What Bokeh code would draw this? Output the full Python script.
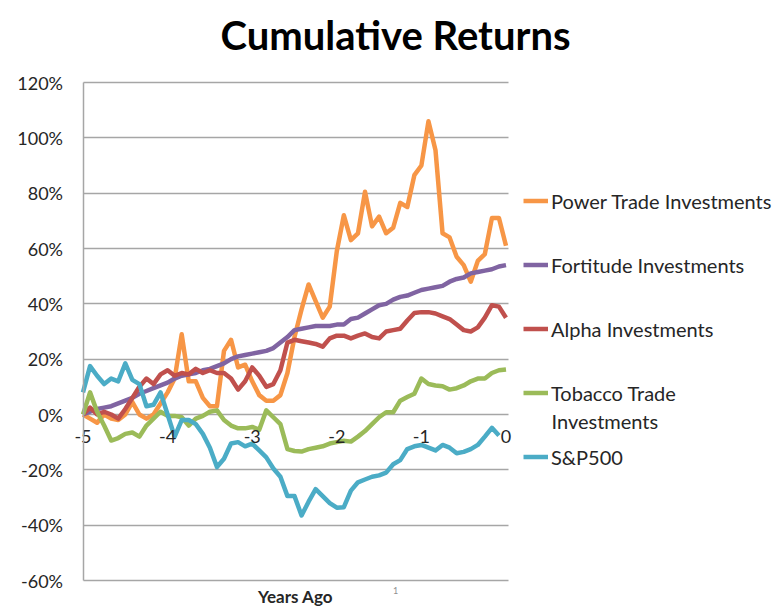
from bokeh.plotting import figure
from bokeh.models import FixedTicker, NumeralTickFormatter, Legend, LegendItem, Label, Range1d
from bokeh.embed import file_html
from bokeh.resources import INLINE

# ---- data (cumulative returns in %, monthly, from 5 years ago to now) ----
months_ago = list(range(-60, 1))
power_trade = [0, -1.5, -3, 0, -1.5, -2, 0, 4.5, 0, -1.5,
               0, 4, 8, 13, 29, 12, 12, 6, 3, 3,
               23, 27, 17, 18, 12, 7, 5, 5, 7, 15,
               28, 38, 47, 41, 35, 39, 59, 72, 63, 65.5,
               80.5, 68, 71.5, 65.5, 67.5, 76.5, 75, 86.5, 90, 106,
               95.5, 65.5, 64, 57, 54, 48, 55.5, 58, 71, 71,
               61]
fortitude = [0, 1, 2, 2.5, 3, 4, 5, 6, 7.5, 8.5,
             9.5, 10.5, 11.5, 13, 14, 14.5, 15, 16, 16.5, 17.5,
             18.5, 20, 21, 21.5, 22, 22.5, 23, 24, 26, 28,
             30.5, 31, 31.5, 32, 32, 32, 32.5, 32.5, 34.5, 35,
             36.5, 38, 39.5, 40, 41.5, 42.5, 43, 44, 45, 45.5,
             46, 46.5, 48, 49, 49.5, 51, 51.5, 52, 52.5, 53.5,
             54]
alpha = [0, 2.5, 0, 1, 0, -1.5, 2, 6, 10, 13,
         11, 14.5, 16, 14, 15, 14.5, 16.5, 15, 16, 15,
         15, 13, 9, 12, 17, 14, 10, 11, 16, 26,
         27, 26.5, 26, 25.5, 24.5, 27.5, 28.5, 28.5, 27.5, 28.5,
         29.3, 28, 27.5, 30, 30.5, 31, 34, 36.7, 37, 37,
         36.5, 35.5, 34.5, 32.5, 30.5, 30, 31.5, 35, 39.5, 39,
         35]
tobacco = [0, 8, 1, -4, -9.4, -8.5, -7, -6.5, -8, -4,
           -1.5, 1, -0.5, -0.5, -1, -4, -1.5, -0.5, 1, 1.5,
           -2, -4, -5, -5, -4.5, -5.5, 1.5, -1, -3.5, -12.5,
           -13.2, -13.4, -12.5, -12, -11.5, -10.5, -10, -9.5, -9.8, -8,
           -6, -3.5, -1, 0.8, 0.8, 5, 6.3, 7.5, 13, 11,
           10.5, 10.2, 9, 9.5, 10.5, 12, 13, 13, 15, 16,
           16.3]
sp500 = [8, 17.5, 14, 11, 13, 12, 18.5, 12.5, 11, 3,
         3.5, 8, 0, -8, -2, -2, -3.5, -7, -12, -19,
         -16, -10.5, -10, -11.5, -10.5, -13, -15.5, -19.5, -22.5, -29.5,
         -29.5, -36.5, -31.5, -27, -29.5, -32, -33.7, -33.5, -27.5, -24.5,
         -23.5, -22.5, -22, -21, -18, -16.5, -12.5, -11.5, -11, -12,
         -13, -11, -12, -14, -13.5, -12.5, -11, -8, -4.8, -7.6]

series_names = ["Power Trade Investments", "Fortitude Investments", "Alpha Investments",
                "Tobacco Trade", "S&P500"]
series_values = [power_trade, fortitude, alpha, tobacco, sp500]
series_colors = ["#F79646", "#8064A2", "#C0504D", "#9BBB59", "#4BACC6"]

x_ticks = [-5, -4, -3, -2, -1, 0]
x_tick_labels = ["-5", "-4", "-3", "-2", "-1", "0"]
y_ticks = [-0.6, -0.4, -0.2, 0.0, 0.2, 0.4, 0.6, 0.8, 1.0, 1.2]

# ---- layout: the frame covers the whole canvas; axes are placed at fixed data locations ----
W, H = 774, 606
X0_PX, X1_PX = 82.5, 505.5      # pixel of x=-5 and x=0
YT_PX, YB_PX = 82.0, 580.0      # pixel of y=1.2 and y=-0.6
sx = (X1_PX - X0_PX) / 5.0
sy = (YB_PX - YT_PX) / 1.8
x_range = Range1d(-5 - X0_PX / sx, 0 + (W - X1_PX) / sx)
y_range = Range1d(-0.6 - (H - YB_PX) / sy, 1.2 + YT_PX / sy)

FONT = "Lato"
GRID = "#A6A6A6"
TXT = "#262626"

p = figure(width=W, height=H, x_range=x_range, y_range=y_range,
           output_backend="svg", toolbar_location=None,
           min_border_left=0, min_border_right=0, min_border_top=0, min_border_bottom=0)
p.title.visible = False
p.outline_line_color = None
p.background_fill_color = "white"
p.border_fill_color = "white"

p.xgrid.visible = False
p.ygrid.ticker = FixedTicker(ticks=y_ticks)
p.ygrid.grid_line_color = GRID
p.ygrid.grid_line_width = 1.5
p.ygrid.cross_bounds = (-5, 0.03)

p.yaxis.fixed_location = -5
p.yaxis.bounds = (-0.6, 1.2)
p.yaxis.ticker = FixedTicker(ticks=y_ticks)
p.yaxis.formatter = NumeralTickFormatter(format="0%")
p.yaxis.axis_line_color = GRID
p.yaxis.axis_line_width = 1.5
p.yaxis.major_tick_line_color = None
p.yaxis.minor_tick_line_color = None
p.yaxis.major_tick_out = 0
p.yaxis.major_label_standoff = 20
p.yaxis.major_label_text_font = FONT
p.yaxis.major_label_text_font_size = "18px"
p.yaxis.major_label_text_color = TXT

p.xaxis.fixed_location = 0
p.xaxis.bounds = (-5, 0)
p.xaxis.ticker = FixedTicker(ticks=x_ticks)
p.xaxis.major_label_overrides = {t: s for t, s in zip(x_ticks, x_tick_labels)}
p.xaxis.axis_line_color = None
p.xaxis.major_tick_line_color = None
p.xaxis.minor_tick_line_color = None
p.xaxis.major_tick_out = 0
p.xaxis.major_label_standoff = 15
p.xaxis.major_label_text_font = FONT
p.xaxis.major_label_text_font_size = "18px"
p.xaxis.major_label_text_color = TXT

items = []
for name, vals, col in zip(series_names, series_values, series_colors):
    xs = [m / 12 for m in months_ago[:len(vals)]]
    ys = [v / 100 for v in vals]
    r = p.line(xs, ys, line_color=col, line_width=4.5, line_join="round")
    items.append(LegendItem(label=name, renderers=[r]))

legend = Legend(items=items, location=(523, H - 469), padding=0, margin=0,
                spacing=39, label_height=25, glyph_height=25, glyph_width=25,
                label_standoff=3, border_line_color=None, background_fill_alpha=0,
                label_text_font=FONT, label_text_font_size="20px", label_text_color=TXT)
p.add_layout(legend, "center")

# second line of the Tobacco legend label
p.add_layout(Label(x=551, y=H - 420, x_units="screen", y_units="screen", text="Investments",
                   text_font=FONT, text_font_size="20px", text_color=TXT,
                   text_baseline="middle"))

# chart title
p.add_layout(Label(x=395, y=H - 34, x_units="screen", y_units="screen", text="Cumulative Returns",
                   text_font=FONT, text_font_style="bold", text_font_size="40px",
                   text_color="black", text_align="center", text_baseline="middle"))

# axis title
p.add_layout(Label(x=295, y=H - 585, x_units="screen", y_units="screen", text="Years Ago",
                   text_font=FONT, text_font_style="bold", text_font_size="17px",
                   text_color=TXT, text_align="center", text_baseline="top"))

p.add_layout(Label(x=395, y=H - 590, x_units="screen", y_units="screen", text="1",
                   text_font=FONT, text_font_size="9px", text_color="#909090",
                   text_align="center", text_baseline="middle"))

open("out.html", "w").write(file_html(p, INLINE))
